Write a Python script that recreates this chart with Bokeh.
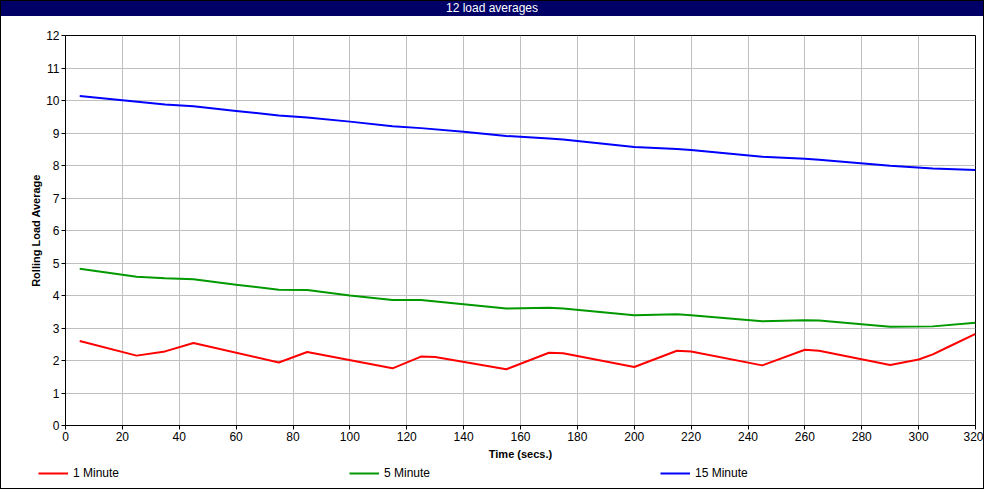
from bokeh.plotting import figure
from bokeh.models import Range1d, SingleIntervalTicker, Legend, LegendItem, Div
from bokeh.layouts import column
from bokeh.embed import file_html
from bokeh.resources import INLINE

title_text = "12 load averages"
x_label = "Time (secs.)"
y_label = "Rolling Load Average"
series_names = ["1 Minute", "5 Minute", "15 Minute"]
series_colors = ["#ff0000", "#009900", "#0000ff"]

t_1min = [5, 25, 35, 45, 75, 85, 115, 125, 130, 155, 170, 175, 200, 215, 220,
          245, 260, 265, 290, 300, 305, 310, 320]
load_1min = [2.60, 2.15, 2.28, 2.54, 1.94, 2.26, 1.76, 2.12, 2.11, 1.73, 2.24,
             2.22, 1.80, 2.30, 2.28, 1.85, 2.33, 2.30, 1.86, 2.03, 2.19, 2.40, 2.82]

t_5min = [5, 15, 25, 35, 45, 60, 75, 85, 100, 115, 125, 140, 155, 170, 175, 200,
          215, 220, 245, 260, 265, 290, 305, 320]
load_5min = [4.82, 4.70, 4.58, 4.53, 4.50, 4.33, 4.18, 4.17, 4.00, 3.86, 3.86,
             3.73, 3.60, 3.62, 3.60, 3.39, 3.42, 3.39, 3.21, 3.24, 3.23, 3.04,
             3.05, 3.16]

t_15min = [5, 20, 35, 45, 60, 75, 85, 100, 115, 125, 140, 155, 170, 175, 200,
           215, 220, 245, 260, 265, 290, 305, 320]
load_15min = [10.14, 10.01, 9.88, 9.82, 9.68, 9.54, 9.48, 9.35, 9.21, 9.15, 9.04,
              8.91, 8.83, 8.80, 8.57, 8.51, 8.48, 8.27, 8.21, 8.18, 7.99, 7.91, 7.86]

series = [(t_1min, load_1min), (t_5min, load_5min), (t_15min, load_15min)]

FONT = "Liberation Sans Narrow, Liberation Sans, Arial, sans-serif"
FONT_B = "Liberation Sans, Arial, sans-serif"
INNER_W = 982

p = figure(
    frame_width=910, frame_height=390,
    min_border_left=64, min_border_right=8, min_border_top=19, min_border_bottom=36,
    x_range=Range1d(0, 320), y_range=Range1d(0, 12),
    output_backend="svg", toolbar_location=None,
    background_fill_color="white", border_fill_color="white",
)
p.outline_line_color = "black"
p.outline_line_width = 1

p.xaxis.ticker = SingleIntervalTicker(interval=20)
p.yaxis.ticker = SingleIntervalTicker(interval=1)
for ax in (p.xaxis, p.yaxis):
    ax.axis_line_color = "black"
    ax.major_tick_line_color = "black"
    ax.minor_tick_line_color = None
    ax.major_tick_out = 4
    ax.major_tick_in = 0
    ax.major_label_text_font = FONT
    ax.major_label_text_font_size = "12px"
    ax.major_label_text_color = "black"
    ax.axis_label_text_font = FONT_B
    ax.axis_label_text_font_style = "bold"
    ax.axis_label_text_font_size = "11px"
    ax.axis_label_text_color = "black"
p.xaxis.major_label_standoff = 2
p.yaxis.major_label_standoff = 2
p.xaxis.axis_label = x_label
p.yaxis.axis_label = y_label
p.xaxis.axis_label_standoff = 4
p.yaxis.axis_label_standoff = 1

p.xgrid.grid_line_color = "#c0c0c0"
p.ygrid.grid_line_color = "#c0c0c0"

for (t, v), c in zip(series, series_colors):
    p.line(t, v, line_color=c, line_width=2)

# Legend strip below the chart (its own figure so the legend is not clipped)
lg = figure(
    frame_width=INNER_W, frame_height=26,
    min_border_left=0, min_border_right=0, min_border_top=0, min_border_bottom=0,
    x_range=Range1d(0, 1), y_range=Range1d(0, 1),
    x_axis_type=None, y_axis_type=None,
    output_backend="svg", toolbar_location=None,
    background_fill_color="white", border_fill_color="white",
)
lg.outline_line_color = None
items = []
for (t, v), c, name in zip(series, series_colors, series_names):
    r = lg.line(t, v, line_color=c, line_width=2, visible=False)
    items.append(LegendItem(label=name, renderers=[r]))

legend = Legend(
    items=items,
    orientation="horizontal",
    location=(37, 8),
    glyph_width=30, glyph_height=14, label_height=14,
    label_standoff=5, label_width=270, spacing=6,
    padding=0, margin=0,
    border_line_color=None, background_fill_alpha=0,
    inactive_fill_alpha=0,
    label_text_font=FONT, label_text_font_size="12px", label_text_color="black",
)
lg.add_layout(legend)

title = Div(
    text=title_text, width=INNER_W, height=15, margin=0,
    styles={"background-color": "#000066", "color": "white", "text-align": "center",
            "font-family": FONT, "font-size": "12px", "line-height": "15px"},
)

layout = column(title, p, lg, spacing=0, margin=0, styles={"border": "1px solid black"})

open("out.html", "w").write(file_html(layout, INLINE))
